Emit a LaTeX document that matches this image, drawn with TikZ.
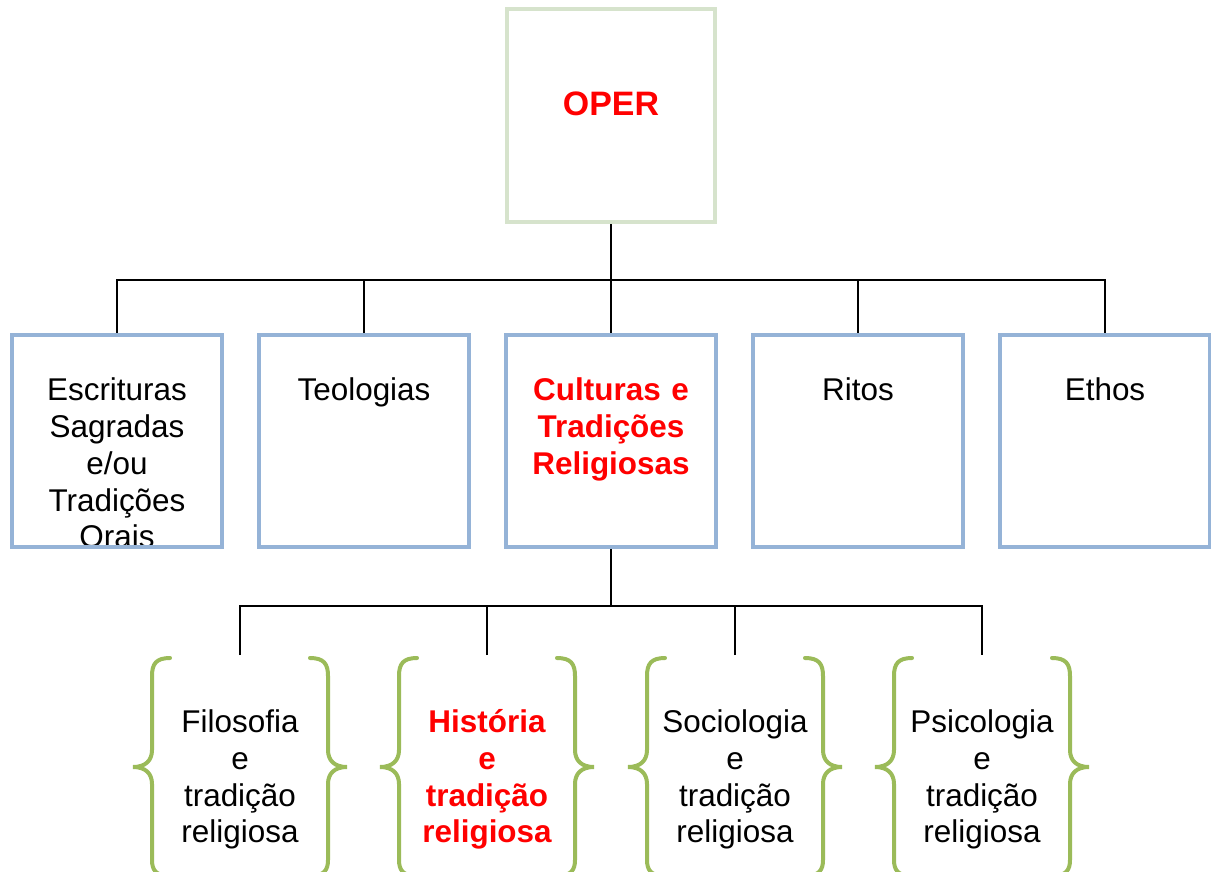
\documentclass[tikz,border=0pt]{standalone}
\usepackage{fontspec}
\setmainfont{Liberation Sans}
\usetikzlibrary{positioning}
\definecolor{boxblue}{RGB}{149,179,215}
\definecolor{boxgreen}{RGB}{214,227,204}
\definecolor{bracegreen}{RGB}{155,187,89}
\definecolor{hotred}{RGB}{255,0,0}
\pgfdeclarelayer{bg}
\pgfsetlayers{bg,main}
\tikzset{
  box/.style={draw=boxblue,line width=0.08cm,minimum width=4.2cm,minimum height=4.24cm,inner sep=0pt},
  txt/.style={inner sep=0pt,anchor=north,text width=4cm,align=center,font=\fontsize{17.9}{21}\selectfont,
    execute at begin node={\rule{0pt}{17pt}}},
  hot/.style={text=hotred,font=\fontsize{17.9}{21}\selectfont\bfseries},
  conn/.style={line width=0.04cm},
  curly/.style={draw=bracegreen,line width=0.08cm,line cap=round}
}
\begin{document}
\begin{tikzpicture}[x=0.02cm,y=-0.02cm]
\useasboundingbox (0,0) rectangle (1211,872);
\clip (0,0) rectangle (1211,872);
\node[box,draw=boxgreen,minimum width=4.16cm,minimum height=4.26cm] (oper) at (611,115.5) {};
\node[anchor=base,text=hotred,font=\fontsize{19.3}{23}\selectfont\bfseries] (opertxt) at (611,115) {OPER};
\foreach \i/\x in {1/117,2/364,3/611,4/858,5/1105}
  \node[box] (b\i) at (\x,441) {};
\begin{pgfonlayer}{bg}
\node[txt,below=0.742cm of b1.north] (t1) {Escrituras\\Sagradas\\e/ou\\Tradições\\Orais};
\node[txt,below=0.742cm of b2.north] (t2) {Teologias};
\node[txt,hot,below=0.742cm of b3.north] (t3) {Culturas e\\Tradições\\Religiosas};
\node[txt,below=0.742cm of b4.north] (t4) {Ritos};
\node[txt,below=0.742cm of b5.north] (t5) {Ethos};
% first level
\coordinate (j1) at (611,280);
\draw[conn] (oper.south) -- (b3.north);
\draw[conn] (b1.north) |- (j1) -| (b5.north);
\draw[conn] (b2.north) -- (b2.north |- j1);
\draw[conn] (b4.north) -- (b4.north |- j1);
\end{pgfonlayer}
% second level
\foreach \i/\x in {1/240,2/487,3/735,4/982}{
  \coordinate (g\i) at (\x,655);
  \draw[curly] (\x-70,658) .. controls (\x-84,658) and (\x-88,664) .. (\x-88,676) -- (\x-88,750)
    .. controls (\x-88,761) and (\x-95,767) .. (\x-107,767)
    .. controls (\x-95,767) and (\x-88,773) .. (\x-88,784) -- (\x-88,860)
    .. controls (\x-88,870) and (\x-84,876) .. (\x-70,876);
  \draw[curly] (\x+70,658) .. controls (\x+84,658) and (\x+88,664) .. (\x+88,676) -- (\x+88,750)
    .. controls (\x+88,761) and (\x+95,767) .. (\x+107,767)
    .. controls (\x+95,767) and (\x+88,773) .. (\x+88,784) -- (\x+88,860)
    .. controls (\x+88,870) and (\x+84,876) .. (\x+70,876);
}
\coordinate (j2) at (611,606);
\draw[conn] (b3.south) -- (j2);
\draw[conn] (g1) |- (j2) -| (g4);
\draw[conn] (g2) -- (g2 |- j2);
\draw[conn] (g3) -- (g3 |- j2);
\node[txt,below=0.94cm of g1] (f1) {Filosofia\\e\\tradição\\religiosa};
\node[txt,hot,below=0.94cm of g2] (f2) {História\\e\\tradição\\religiosa};
\node[txt,below=0.94cm of g3] (f3) {Sociologia\\e\\tradição\\religiosa};
\node[txt,below=0.94cm of g4] (f4) {Psicologia\\e\\tradição\\religiosa};
\end{tikzpicture}
\end{document}
